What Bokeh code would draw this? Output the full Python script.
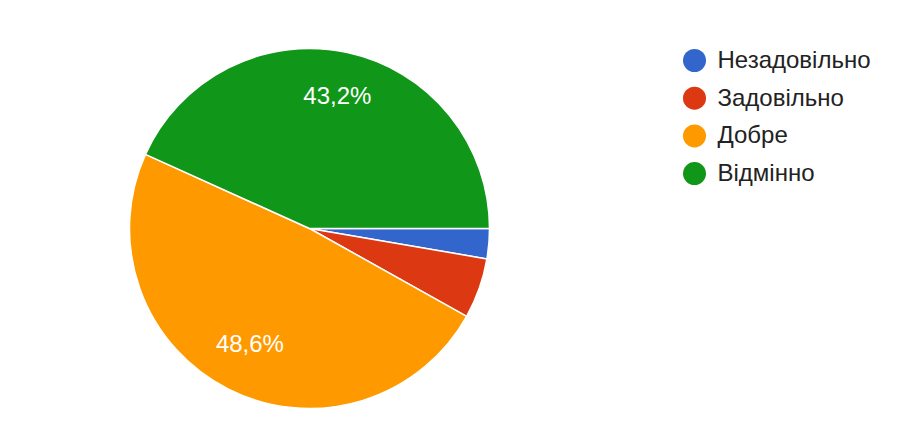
import numpy as np
from bokeh.plotting import figure
from bokeh.models import Range1d, ColumnDataSource
from bokeh.core.properties import value
from bokeh.embed import file_html
from bokeh.resources import INLINE

categories = ["Незадовільно", "Задовільно", "Добре", "Відмінно"]
counts = [1, 2, 18, 16]
colors = ["#3366cc", "#dc3912", "#ff9900", "#109618"]

W, H = 889, 413
p = figure(width=W, height=H, output_backend="svg", toolbar_location=None,
           x_range=Range1d(0, W), y_range=Range1d(0, H), min_border=0)
p.axis.visible = False
p.grid.visible = False
p.outline_line_color = None
p.background_fill_color = "white"

cx, cy, r = 309, H - 228, 180
total = sum(counts)
frac = np.array(counts) / total
ends = -2 * np.pi * np.cumsum(frac)
starts = np.concatenate([[0.0], ends[:-1]])

src = ColumnDataSource(dict(start=starts, end=ends, color=colors))
p.wedge(x=cx, y=cy, radius=r, radius_units="screen", start_angle="start", end_angle="end",
        direction="clock", fill_color="color", line_color="white", line_width=1.5, source=src)

mid = (starts + ends) / 2
lab_r = 0.735 * r
show = frac >= 0.1
lx = cx + lab_r * np.cos(mid[show])
ly = cy + lab_r * np.sin(mid[show]) + 3.5
ltxt = [f"{v*100:.1f}%".replace(".", ",") for v in frac[show]]
p.text(x=lx, y=ly, text=ltxt, text_color="white", text_align="center", text_baseline="middle",
       text_font=value("Liberation Sans"), text_font_size="24px")

# legend
lgx = 694
lgy = H - (60 + 37.7 * np.arange(len(categories)))
p.scatter(x=[lgx] * len(categories), y=lgy, size=23, marker="circle", fill_color=colors, line_color=None)
p.text(x=[lgx + 23] * len(categories), y=lgy + 1, text=categories, text_color="#222222",
       text_align="left", text_baseline="middle",
       text_font=value("Liberation Sans"), text_font_size="24px")

open("out.html", "w").write(file_html(p, INLINE))
